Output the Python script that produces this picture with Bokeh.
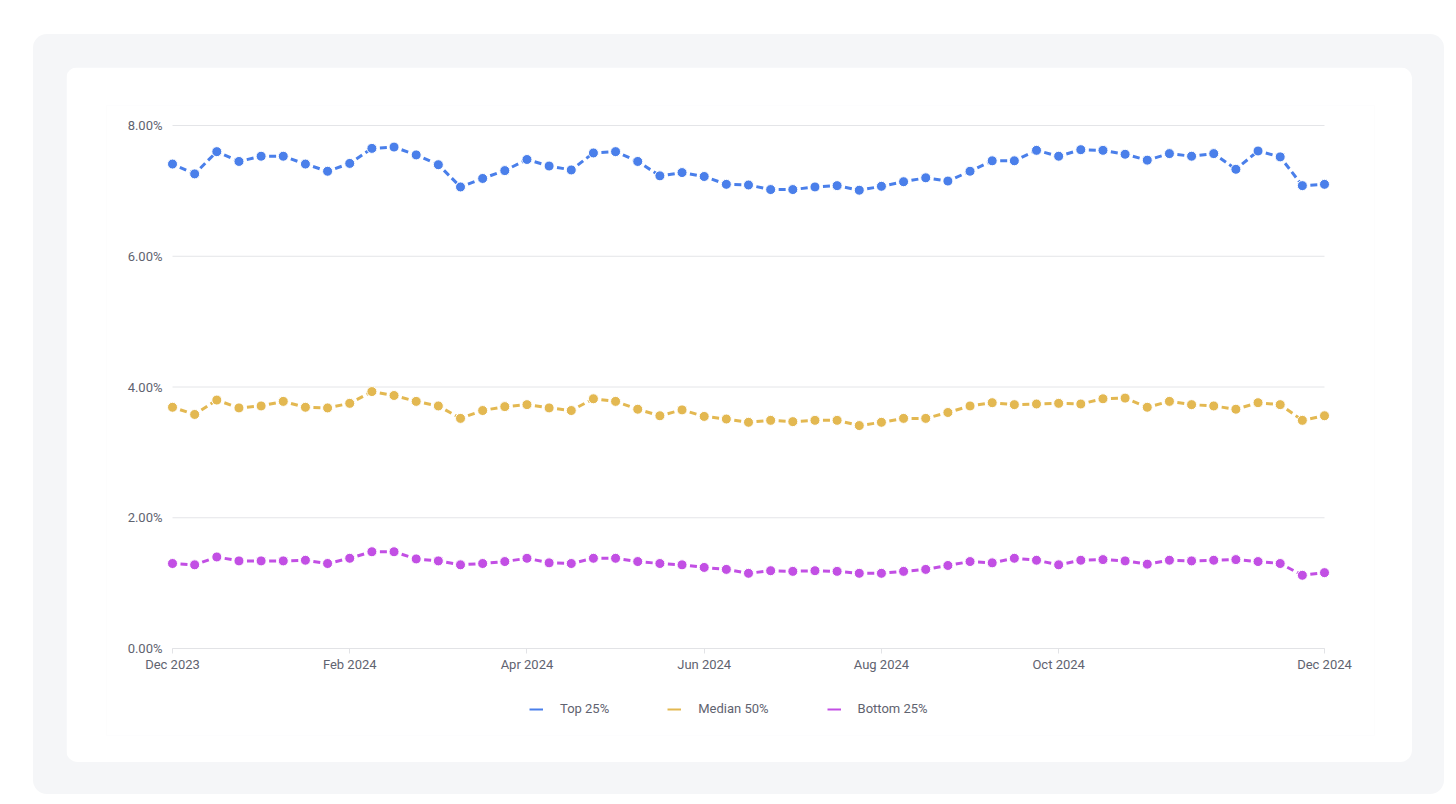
from bokeh.plotting import figure
from bokeh.layouts import column
from bokeh.models import (FixedTicker, PrintfTickFormatter, Range1d, Legend, LegendItem,
                          ColumnDataSource)
from bokeh.embed import file_html
from bokeh.resources import INLINE

# ---- data (weekly points, Dec 2023 -> Dec 2024) ----
week_index = list(range(53))
tick_positions = [0, 8, 16, 24, 32, 40, 52]
tick_labels = ["Dec 2023", "Feb 2024", "Apr 2024", "Jun 2024", "Aug 2024", "Oct 2024", "Dec 2024"]

top_25 = [7.41, 7.26, 7.60, 7.45, 7.53, 7.53, 7.41, 7.30, 7.42, 7.65,
          7.67, 7.55, 7.40, 7.06, 7.19, 7.31, 7.48, 7.38, 7.32, 7.58,
          7.60, 7.45, 7.23, 7.28, 7.22, 7.10, 7.09, 7.02, 7.02, 7.06,
          7.08, 7.01, 7.07, 7.14, 7.20, 7.15, 7.30, 7.46, 7.46, 7.62,
          7.53, 7.63, 7.62, 7.56, 7.47, 7.57, 7.53, 7.57, 7.33, 7.61,
          7.52, 7.08, 7.10]
median_50 = [3.69, 3.58, 3.80, 3.68, 3.71, 3.78, 3.69, 3.68, 3.75, 3.93,
             3.87, 3.78, 3.71, 3.52, 3.64, 3.70, 3.73, 3.68, 3.64, 3.82,
             3.78, 3.66, 3.56, 3.65, 3.55, 3.51, 3.46, 3.49, 3.47, 3.49,
             3.49, 3.41, 3.46, 3.52, 3.52, 3.61, 3.71, 3.76, 3.73, 3.74,
             3.75, 3.74, 3.82, 3.83, 3.69, 3.78, 3.73, 3.71, 3.66, 3.76,
             3.73, 3.49, 3.56]
bottom_25 = [1.30, 1.28, 1.40, 1.34, 1.34, 1.34, 1.35, 1.30, 1.38, 1.48,
             1.48, 1.37, 1.34, 1.28, 1.30, 1.33, 1.38, 1.31, 1.30, 1.38,
             1.38, 1.33, 1.30, 1.28, 1.24, 1.21, 1.15, 1.19, 1.18, 1.19,
             1.18, 1.15, 1.15, 1.18, 1.21, 1.27, 1.33, 1.31, 1.38, 1.35,
             1.28, 1.35, 1.36, 1.34, 1.29, 1.35, 1.34, 1.35, 1.36, 1.33,
             1.30, 1.12, 1.16]
y_ticks = [0, 2, 4, 6, 8]

series = [
    ("Top 25%", top_25, "#4a7fea"),
    ("Median 50%", median_50, "#e3b851"),
    ("Bottom 25%", bottom_25, "#c24fe4"),
]

FONT = "Roboto"
TEXT_COLOR = "#5f6370"

# plot band: 1152 x 523 px for x 0..52 and y 0..8; frame is extended around it so that
# the (fixed-location) axes, edge markers and legend are inside the drawable frame
PX_X = 1152 / 52.0
PX_Y = 523 / 8.0
EXTRA_LEFT, EXTRA_RIGHT, EXTRA_TOP, EXTRA_BELOW = 66, 50, 20, 87

p = figure(width=1346, height=695, output_backend="svg", toolbar_location=None,
           x_range=Range1d(week_index[0] - EXTRA_LEFT / PX_X, week_index[-1] + EXTRA_RIGHT / PX_X),
           y_range=Range1d(y_ticks[0] - EXTRA_BELOW / PX_Y, y_ticks[-1] + EXTRA_TOP / PX_Y),
           min_border_left=106 - EXTRA_LEFT, min_border_right=88 - EXTRA_RIGHT,
           min_border_top=58 - EXTRA_TOP, min_border_bottom=114 - EXTRA_BELOW,
           border_fill_color="white", background_fill_color="white", outline_line_color=None,
           styles={"border-radius": "12px", "overflow": "hidden"})

# horizontal grid lines spanning only the data band
p.segment(x0=[week_index[0]] * len(y_ticks), x1=[week_index[-1]] * len(y_ticks),
          y0=y_ticks, y1=y_ticks, line_color="#e4e5e8", line_width=1, level="underlay")

items = []
for name, vals, color in series:
    # each week-to-week link drawn on its own so the dash pattern restarts per link
    seg_src = ColumnDataSource(dict(x0=week_index[:-1], x1=week_index[1:],
                                    y0=vals[:-1], y1=vals[1:]))
    p.segment("x0", "y0", "x1", "y1", source=seg_src, line_color=color, line_width=3,
              line_dash="7 4", line_dash_offset=3)
    src = ColumnDataSource(dict(x=week_index, y=vals))
    p.scatter("x", "y", source=src, size=10, fill_color=color, line_color="white", line_width=1)
    dummy = p.line(x=[float("nan")], y=[float("nan")], line_color=color, line_width=2)
    items.append(LegendItem(label=name, renderers=[dummy]))

# axes
p.xaxis.fixed_location = 0
p.xaxis.bounds = (week_index[0], week_index[-1])
p.xaxis.ticker = FixedTicker(ticks=tick_positions)
p.xaxis.major_label_overrides = {t: l for t, l in zip(tick_positions, tick_labels)}
p.xaxis.axis_line_color = "#e2e3e6"
p.xaxis.major_tick_line_color = "#e2e3e6"
p.xaxis.major_tick_out = 5
p.xaxis.major_tick_in = 0
p.xaxis.minor_tick_line_color = None
p.xaxis.major_label_standoff = 3

p.yaxis.fixed_location = 0
p.yaxis.ticker = FixedTicker(ticks=y_ticks)
p.yaxis.formatter = PrintfTickFormatter(format="%.2f%%")
p.yaxis.axis_line_color = None
p.yaxis.major_tick_line_color = None
p.yaxis.minor_tick_line_color = None
p.yaxis.major_label_standoff = 4

for ax in (p.xaxis[0], p.yaxis[0]):
    ax.major_label_text_font = FONT
    ax.major_label_text_font_size = "13px"
    ax.major_label_text_color = TEXT_COLOR

p.xgrid.grid_line_color = None
p.ygrid.grid_line_color = None

legend = Legend(items=items, orientation="horizontal", location=(357 + EXTRA_LEFT, 19),
                glyph_width=14, glyph_height=14, label_standoff=17, spacing=58,
                padding=0, margin=0, border_line_color=None, background_fill_alpha=0,
                label_text_font=FONT, label_text_font_size="13px", label_text_color=TEXT_COLOR)
p.add_layout(legend, "center")

outer = column(p, styles={"background-color": "#f5f6f8", "border-radius": "14px",
                          "padding": "33px 32px 32px 33px"},
               margin=(34, 0, 0, 33))

open("out.html", "w").write(file_html(outer, INLINE))
